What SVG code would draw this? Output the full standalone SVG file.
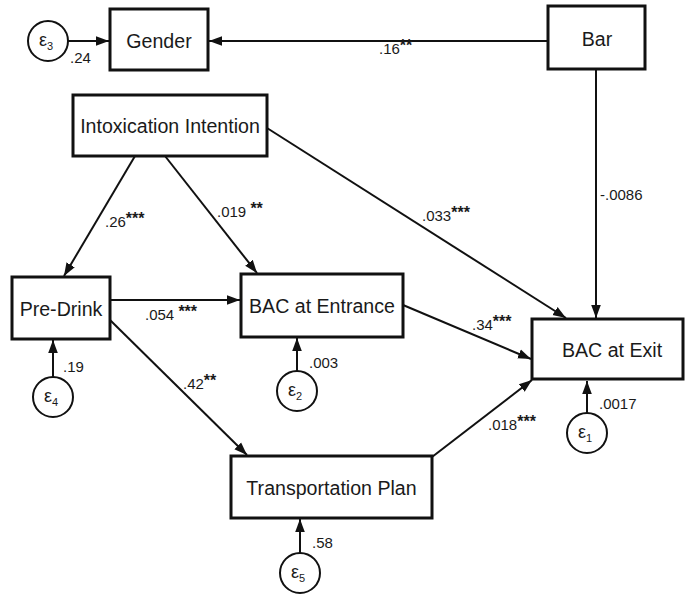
<svg xmlns="http://www.w3.org/2000/svg" width="686" height="595" viewBox="0 0 686 595">
<defs>
<marker id="ah" markerUnits="userSpaceOnUse" markerWidth="14" markerHeight="12" viewBox="0 0 14 12" refX="13" refY="6" orient="auto">
<path d="M0,1.2 L13,6 L0,10.8 Z" fill="#111"/>
</marker>
<style>
.box{fill:#fff;stroke:#111;stroke-width:3}
.err{fill:#fff;stroke:#111;stroke-width:2}
.lbl{font-family:"Liberation Sans",Arial,Helvetica,sans-serif;font-size:19.6px;fill:#1a1a1a;text-anchor:middle}
.num{font-family:"Liberation Sans",Arial,Helvetica,sans-serif;font-size:15px;fill:#1a1a1a}
.st{font-size:16px;font-weight:bold}
.eps{font-family:"Liberation Sans",Arial,Helvetica,sans-serif;font-size:18px;fill:#1a1a1a;text-anchor:middle}
.sub{font-size:11px}
.c{fill:none;stroke:#111;stroke-width:2;marker-end:url(#ah)}
</style>
</defs>
<rect width="686" height="595" fill="#fff"/>
<g id="connectors">
<line class="c" x1="548" y1="41" x2="209" y2="41"/>
<line class="c" x1="596" y1="69" x2="596" y2="318"/>
<line class="c" x1="135" y1="156" x2="64" y2="276"/>
<line class="c" x1="165" y1="156" x2="257" y2="273"/>
<line class="c" x1="267" y1="128" x2="566" y2="318"/>
<line class="c" x1="110" y1="300" x2="240" y2="300"/>
<line class="c" x1="110" y1="320" x2="247" y2="455"/>
<line class="c" x1="403" y1="305" x2="531" y2="359"/>
<line class="c" x1="432" y1="457" x2="532" y2="380"/>
<line class="c" x1="68" y1="41" x2="109" y2="41"/>
<line class="c" x1="53" y1="377" x2="53" y2="340"/>
<line class="c" x1="297" y1="371" x2="297" y2="338"/>
<line class="c" x1="587" y1="413" x2="587" y2="381"/>
<line class="c" x1="300" y1="553" x2="300" y2="519"/>
</g>
<g id="labels">
<text class="num" x="379" y="54">.16<tspan class="st" dy="-3">**</tspan></text>
<text class="num" x="600" y="200">-.0086</text>
<text class="num" x="105" y="227">.26<tspan class="st" dy="-3">***</tspan></text>
<text class="num" x="217" y="217">.019 <tspan class="st" dy="-3">**</tspan></text>
<text class="num" x="422" y="221">.033<tspan class="st" dy="-3">***</tspan></text>
<text class="num" x="145" y="320">.054 <tspan class="st" dy="-3">***</tspan></text>
<text class="num" x="183" y="389">.42<tspan class="st" dy="-3">**</tspan></text>
<text class="num" x="472" y="330">.34<tspan class="st" dy="-3">***</tspan></text>
<text class="num" x="488" y="430">.018<tspan class="st" dy="-3">***</tspan></text>
<text class="num" x="70" y="63">.24</text>
<text class="num" x="63" y="372">.19</text>
<text class="num" x="309" y="368">.003</text>
<text class="num" x="599" y="409">.0017</text>
<text class="num" x="312" y="548">.58</text>
</g>
<g id="gender"><rect class="box" x="110" y="9" width="98" height="61"/><text class="lbl" x="159" y="47.5">Gender</text></g>
<g id="bar"><rect class="box" x="548" y="6" width="97" height="63"/><text class="lbl" x="597" y="45.5">Bar</text></g>
<g id="intox"><rect class="box" x="73" y="95" width="194" height="61"/><text class="lbl" x="170" y="132.5">Intoxication Intention</text></g>
<g id="predrink"><rect class="box" x="12" y="277" width="98" height="62"/><text class="lbl" x="61" y="316">Pre-Drink</text></g>
<g id="bacentrance"><rect class="box" x="241" y="274" width="162" height="63"/><text class="lbl" x="322" y="313">BAC at Entrance</text></g>
<g id="bacexit"><rect class="box" x="532" y="319" width="151" height="60"/><text class="lbl" x="612" y="357">BAC at Exit</text></g>
<g id="transport"><rect class="box" x="231" y="456" width="201" height="62"/><text class="lbl" x="331.5" y="494.5">Transportation Plan</text></g>
<g id="e3"><circle class="err" cx="48" cy="41" r="20"/><text class="eps" x="46" y="46">ε<tspan class="sub" dy="4">3</tspan></text></g>
<g id="e4"><circle class="err" cx="53" cy="397" r="20"/><text class="eps" x="51" y="402">ε<tspan class="sub" dy="4">4</tspan></text></g>
<g id="e2"><circle class="err" cx="297" cy="391" r="20"/><text class="eps" x="295" y="396">ε<tspan class="sub" dy="4">2</tspan></text></g>
<g id="e1"><circle class="err" cx="587" cy="433" r="20"/><text class="eps" x="585" y="438">ε<tspan class="sub" dy="4">1</tspan></text></g>
<g id="e5"><circle class="err" cx="300" cy="573" r="20"/><text class="eps" x="298" y="578">ε<tspan class="sub" dy="4">5</tspan></text></g>
</svg>
